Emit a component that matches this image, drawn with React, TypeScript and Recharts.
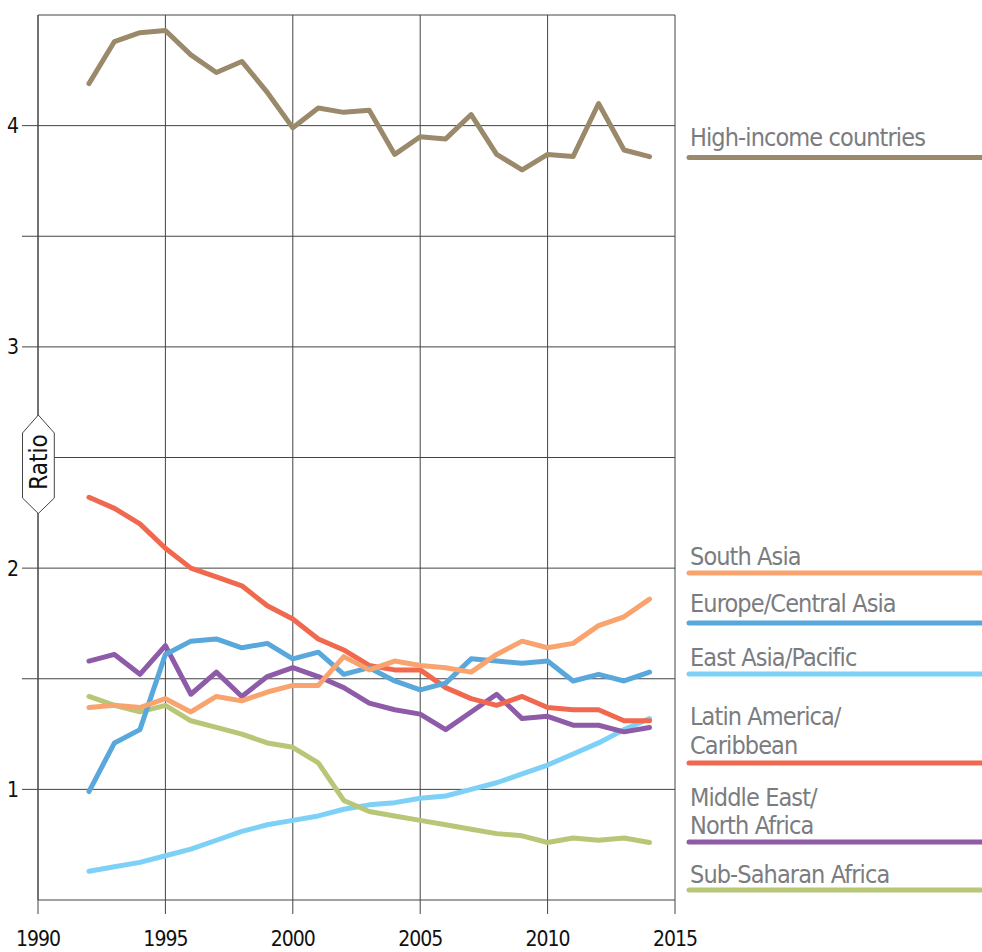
import { LineChart, Line, XAxis, YAxis, CartesianGrid, ReferenceLine } from "recharts";

const years = [1992, 1993, 1994, 1995, 1996, 1997, 1998, 1999, 2000, 2001, 2002, 2003, 2004, 2005, 2006, 2007, 2008, 2009, 2010, 2011, 2012, 2013, 2014];

const highIncome = [4.19, 4.38, 4.42, 4.43, 4.32, 4.24, 4.29, 4.15, 3.99, 4.08, 4.06, 4.07, 3.87, 3.95, 3.94, 4.05, 3.87, 3.80, 3.87, 3.86, 4.10, 3.89, 3.86];
const southAsia = [1.37, 1.38, 1.37, 1.41, 1.35, 1.42, 1.40, 1.44, 1.47, 1.47, 1.60, 1.54, 1.58, 1.56, 1.55, 1.53, 1.61, 1.67, 1.64, 1.66, 1.74, 1.78, 1.86];
const europeCentralAsia = [0.99, 1.21, 1.27, 1.61, 1.67, 1.68, 1.64, 1.66, 1.59, 1.62, 1.52, 1.55, 1.49, 1.45, 1.48, 1.59, 1.58, 1.57, 1.58, 1.49, 1.52, 1.49, 1.53];
const eastAsiaPacific = [0.63, 0.65, 0.67, 0.70, 0.73, 0.77, 0.81, 0.84, 0.86, 0.88, 0.91, 0.93, 0.94, 0.96, 0.97, 1.00, 1.03, 1.07, 1.11, 1.16, 1.21, 1.27, 1.32];
const latinAmerica = [2.32, 2.27, 2.20, 2.09, 2.00, 1.96, 1.92, 1.83, 1.77, 1.68, 1.63, 1.56, 1.54, 1.54, 1.46, 1.41, 1.38, 1.42, 1.37, 1.36, 1.36, 1.31, 1.31];
const middleEast = [1.58, 1.61, 1.52, 1.65, 1.43, 1.53, 1.42, 1.51, 1.55, 1.51, 1.46, 1.39, 1.36, 1.34, 1.27, 1.35, 1.43, 1.32, 1.33, 1.29, 1.29, 1.26, 1.28];
const subSaharan = [1.42, 1.38, 1.35, 1.38, 1.31, 1.28, 1.25, 1.21, 1.19, 1.12, 0.95, 0.90, 0.88, 0.86, 0.84, 0.82, 0.80, 0.79, 0.76, 0.78, 0.77, 0.78, 0.76];

const xTicks = [1990, 1995, 2000, 2005, 2010, 2015];
const yTicks = [1, 1.5, 2, 2.5, 3, 3.5, 4];

const FONT = "'Liberation Sans Narrow', 'DejaVu Sans Condensed', 'Arial Narrow', sans-serif";
const GRID = "#444";

// drawing order matters a bit where lines overlap
const series = [
  { key: "eastAsia", name: "East Asia/Pacific", color: "#7dd1f6", values: eastAsiaPacific },
  { key: "subSaharan", name: "Sub-Saharan Africa", color: "#b8c678", values: subSaharan },
  { key: "middleEast", name: "Middle East/North Africa", color: "#8e5ba8", values: middleEast },
  { key: "latin", name: "Latin America/Caribbean", color: "#f0694f", values: latinAmerica },
  { key: "europe", name: "Europe/Central Asia", color: "#58a8dc", values: europeCentralAsia },
  { key: "southAsia", name: "South Asia", color: "#f9a36e", values: southAsia },
  { key: "highIncome", name: "High-income countries", color: "#9a8a6b", values: highIncome },
];

const data = years.map((year, i) => {
  const row: Record<string, number> = { year };
  series.forEach(s => { row[s.key] = s.values[i]; });
  return row;
});

// label block on the right: text lines, baselines, and the coloured rule under them
const legendItems = [
  { lines: ["High-income countries"], color: "#9a8a6b", textY: [146], lineY: 157.5 },
  { lines: ["South Asia"], color: "#f9a36e", textY: [565], lineY: 573 },
  { lines: ["Europe/Central Asia"], color: "#58a8dc", textY: [612], lineY: 623 },
  { lines: ["East Asia/Pacific"], color: "#7dd1f6", textY: [666], lineY: 674 },
  { lines: ["Latin America/", "Caribbean"], color: "#f0694f", textY: [725, 754], lineY: 763 },
  { lines: ["Middle East/", "North Africa"], color: "#8e5ba8", textY: [806, 834], lineY: 842 },
  { lines: ["Sub-Saharan Africa"], color: "#b8c678", textY: [883], lineY: 890 },
];

export default function App() {
  return (
    <div style={{ position: "absolute", left: 0, top: 0, width: 982, height: 952, background: "#fff", overflow: "hidden" }}>
      <LineChart
        width={982}
        height={952}
        data={data}
        margin={{ top: 15, right: 307, bottom: 0, left: 0 }}
      >
        <CartesianGrid stroke={GRID} strokeWidth={1} horizontalValues={yTicks} verticalValues={xTicks} />
        <XAxis
          dataKey="year"
          type="number"
          domain={[1990, 2015]}
          ticks={xTicks}
          height={52}
          tickSize={14}
          tickMargin={17}
          stroke={GRID}
          tickLine={{ stroke: GRID }}
          tick={{ fill: "#111", fontSize: 21, fontFamily: FONT, letterSpacing: -1 }}
        />
        <YAxis
          type="number"
          domain={[0.5, 4.5]}
          ticks={yTicks}
          width={38}
          tickSize={16}
          tickMargin={3}
          stroke={GRID}
          tickLine={{ stroke: GRID }}
          tickFormatter={(v: number) => (Number.isInteger(v) ? String(v) : "")}
          tick={{ fill: "#111", fontSize: 21, fontFamily: FONT }}
          allowDataOverflow
        />
        <ReferenceLine y={4.5} stroke={GRID} strokeWidth={1} />
        {series.map(s => (
          <Line
            key={s.key}
            dataKey={s.key}
            name={s.name}
            type="linear"
            stroke={s.color}
            strokeWidth={5}
            strokeLinecap="round"
            strokeLinejoin="round"
            dot={false}
            activeDot={false}
            isAnimationActive={false}
          />
        ))}
      </LineChart>
      <svg width={982} height={952} style={{ position: "absolute", left: 0, top: 0, pointerEvents: "none" }}>
        <path
          d="M38.3,415 L22.5,433 L22.5,498 L38.3,513.5 L54.3,498 L54.3,433 Z"
          fill="#fff"
          stroke={GRID}
          strokeWidth={1}
        />
        <text
          x={38.5}
          y={462}
          transform="rotate(-90 38.5 462)"
          textAnchor="middle"
          dominantBaseline="central"
          fontSize={24}
          fontFamily={FONT}
          fill="#111"
        >
          Ratio
        </text>
        {legendItems.map(item => (
          <g key={item.lines.join("")}>
            {item.lines.map((ln, j) => (
              <text key={j} x={690} y={item.textY[j]} fontSize={25} letterSpacing={-0.9} fontFamily={FONT} fill="#7b7c80">
                {ln}
              </text>
            ))}
            <line x1={689} x2={990} y1={item.lineY} y2={item.lineY} stroke={item.color} strokeWidth={5} strokeLinecap="round" />
          </g>
        ))}
      </svg>
    </div>
  );
}
